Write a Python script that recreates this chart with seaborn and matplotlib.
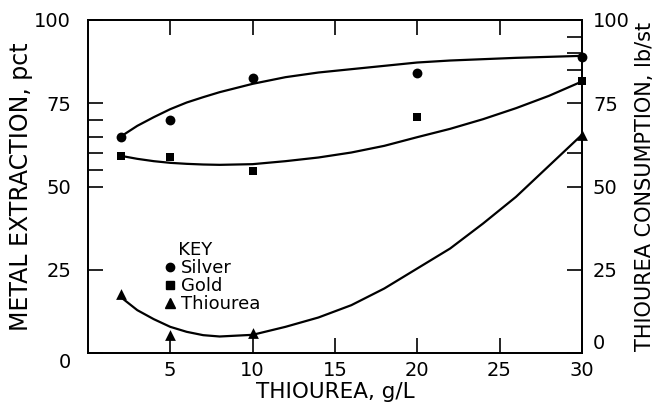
import seaborn as sns
import matplotlib.pyplot as plt
from matplotlib.lines import Line2D
from matplotlib.ticker import FixedLocator

# measured points
thiourea_gl = [2, 5, 10, 20, 30]
silver_pct = [65.0, 70.0, 82.5, 84.0, 89.0]
gold_pct = [59.3, 59.0, 54.8, 70.8, 81.6]
thiourea_x = [2, 5, 10, 30]
thiourea_lbst = [17.8, 5.5, 6.0, 65.5]

# hand-drawn curves
curve_x = [2, 3, 4, 5, 6, 7, 8, 10, 12, 14, 16, 18, 20, 22, 24, 26, 28, 30]
silver_curve = [65.0, 68.2, 70.8, 73.2, 75.2, 76.8, 78.3, 80.8, 82.8, 84.2, 85.2, 86.2,
                87.2, 87.8, 88.2, 88.6, 88.9, 89.2]
gold_curve = [59.2, 58.3, 57.6, 57.1, 56.8, 56.6, 56.5, 56.7, 57.6, 58.7, 60.2, 62.2,
              64.8, 67.3, 70.2, 73.5, 77.2, 81.5]
thiourea_curve = [16.8, 12.9, 10.2, 7.9, 6.4, 5.4, 5.0, 5.5, 7.9, 10.7, 14.4, 19.4,
                  25.4, 31.4, 38.9, 46.9, 56.2, 65.5]

x_ticks = [5, 10, 15, 20, 25, 30]
y_ticks = [0, 25, 50, 75, 100]

sns.set_theme(style="ticks")
plt.rcParams["font.family"] = ["DejaVu Sans"]
plt.rcParams["text.color"] = "black"
plt.rcParams["axes.labelcolor"] = "black"
plt.rcParams["xtick.color"] = "black"
plt.rcParams["ytick.color"] = "black"

fig = plt.figure(figsize=(6.56, 4.05), dpi=100)
ax = fig.add_axes([0.134, 0.128, 0.753, 0.823])
ax2 = ax.twinx()

# curves
sns.lineplot(x=curve_x, y=silver_curve, ax=ax, color="black", linewidth=1.6)
sns.lineplot(x=curve_x, y=gold_curve, ax=ax, color="black", linewidth=1.6)
sns.lineplot(x=curve_x, y=thiourea_curve, ax=ax2, color="black", linewidth=1.6)

# points
sns.scatterplot(x=thiourea_gl, y=silver_pct, ax=ax, marker="o", s=50,
                color="black", linewidth=0, zorder=3, clip_on=False)
sns.scatterplot(x=thiourea_gl, y=gold_pct, ax=ax, marker="s", s=40,
                color="black", linewidth=0, zorder=3, clip_on=False)
sns.scatterplot(x=thiourea_x, y=thiourea_lbst, ax=ax2, marker="^", s=60,
                color="black", linewidth=0, zorder=3, clip_on=False)

for a in (ax, ax2):
    a.set_xlim(0, 30)
    a.set_ylim(0, 100)
    for s in a.spines.values():
        s.set_linewidth(1.3)
        s.set_color("black")

ax.set_xticks(x_ticks)
ax.set_xticklabels([str(t) for t in x_ticks], fontsize=14)
ax.set_yticks(y_ticks)
ax.set_yticklabels([str(t) for t in y_ticks], fontsize=14)
ax.yaxis.set_minor_locator(FixedLocator([55, 60, 65, 70]))
ax.tick_params(axis="x", top=True, direction="in", length=11, width=1.2, pad=6)
ax.tick_params(axis="y", which="both", direction="in", length=11, width=1.2, pad=12)
ax.get_yticklabels()[0].set_va("top")

ax2.set_yticks(y_ticks)
ax2.set_yticklabels([str(t) for t in y_ticks], fontsize=14)
ax2.yaxis.set_minor_locator(FixedLocator([60, 85, 90, 95]))
ax2.tick_params(axis="y", which="both", direction="in", length=11, width=1.2, pad=8)
ax2.get_yticklabels()[0].set_va("bottom")

ax.set_xlabel("THIOUREA, g/L", fontsize=15.5, labelpad=1)
ax.set_ylabel("METAL EXTRACTION, pct", fontsize=17, labelpad=1)
ax2.set_ylabel("THIOUREA CONSUMPTION, lb/st", fontsize=15, labelpad=4)

handles = [
    Line2D([], [], marker="o", linestyle="", color="black", markersize=6),
    Line2D([], [], marker="s", linestyle="", color="black", markersize=5.5),
    Line2D([], [], marker="^", linestyle="", color="black", markersize=7),
]
leg = ax2.legend(handles, ["Silver", "Gold", "Thiourea"], title="   KEY",
                 loc="upper left", bbox_to_anchor=(0.115, 0.385), frameon=False,
                 fontsize=13, title_fontsize=13, handletextpad=0.1,
                 labelspacing=0.0, handlelength=1.0, alignment="left")

plt.savefig("out.png", dpi=100)
